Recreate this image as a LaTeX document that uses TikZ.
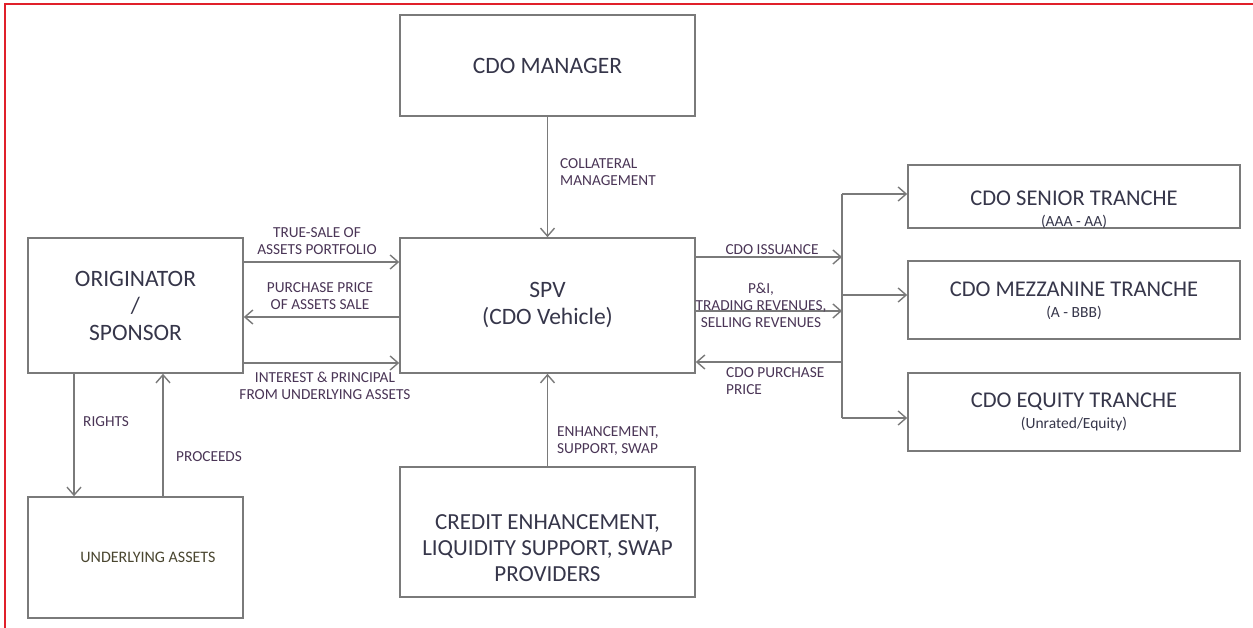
\documentclass[tikz,border=0pt]{standalone}
\usepackage{fontspec}
\setmainfont{Carlito}
\usetikzlibrary{arrows.meta,calc}
\definecolor{boxline}{HTML}{7A7A7A}
\definecolor{boxtext}{HTML}{36364A}
\definecolor{lbltext}{HTML}{4A3556}
\definecolor{undertext}{HTML}{4A4630}
\definecolor{framered}{HTML}{E0202A}
\begin{document}
\begin{tikzpicture}[x=1pt,y=-1pt,
  box/.style={draw=boxline,line width=1.6pt,fill=white,inner sep=0pt,align=center,text=boxtext,font=\fontsize{23.5}{27}\selectfont},
  boxtxt/.style={inner sep=0pt,align=center,text=boxtext,font=\fontsize{23}{26}\selectfont},
  arr/.style={draw=boxline,line width=1.4pt,-{Straight Barb[length=8pt,width=14pt,line width=1.4pt]}},
  plain/.style={draw=boxline,line width=1.4pt},
  lbl/.style={text=lbltext,font=\fontsize{15.3}{17}\selectfont,inner sep=0pt,align=center},
  lbll/.style={lbl,align=left,anchor=west}]
\useasboundingbox (0,0) rectangle (1253,628);
\fill[white] (0,0) rectangle (1253,628);
% frame
\draw[framered,line width=2pt] (5,628) -- (5,4) -- (1253,4);
% boxes
\node[box,minimum width=295pt,minimum height=101pt] (mgr) at (547.5,65.5) {CDO MANAGER};
\node[box,minimum width=295pt,minimum height=135pt] (spv) at (547.5,305.5) {SPV\\(CDO Vehicle)};
\node[box,minimum width=215pt,minimum height=135pt] (orig) at (135.5,305.5) {ORIGINATOR\\/\\SPONSOR};
\node[box,minimum width=215pt,minimum height=121pt] (under) at (135.5,557.5) {};
\node[text=undertext,font=\fontsize{16}{19}\selectfont,inner sep=0pt] (undertxt) at (148,557) {UNDERLYING ASSETS};
\node[box,minimum width=295pt,minimum height=130pt] (credit) at (547.5,532) {};
\node[boxtxt] (credittxt) at (547.5,548) {CREDIT ENHANCEMENT,\\LIQUIDITY SUPPORT, SWAP\\PROVIDERS};
\node[box,minimum width=332pt,minimum height=63pt] (senior) at (1074,196.5) {};
\node[boxtxt,font=\fontsize{22.5}{21}\selectfont] (seniortxt) at (1074,210) {CDO SENIOR TRANCHE\\{\fontsize{15.5}{21}\selectfont(AAA - AA)}};
\node[box,minimum width=332pt,minimum height=78pt] (mezz) at (1074,300) {};
\node[boxtxt,font=\fontsize{22.5}{21}\selectfont] (mezztxt) at (1074,301) {CDO MEZZANINE TRANCHE\\{\fontsize{15.5}{21}\selectfont(A - BBB)}};
\node[box,minimum width=332pt,minimum height=78pt] (equity) at (1074,412) {};
\node[boxtxt,font=\fontsize{22.5}{21}\selectfont] (equitytxt) at (1074,412) {CDO EQUITY TRANCHE\\{\fontsize{15.5}{21}\selectfont(Unrated/Equity)}};
% helper coordinates
\coordinate (bus) at (842,0);
\coordinate (y1) at (0,262);
\coordinate (y2) at (0,317);
\coordinate (y3) at (0,363);
\coordinate (z1) at (0,257);
\coordinate (z2) at (0,311);
\coordinate (z3) at (0,362);
\coordinate (t1) at (0,194);
\coordinate (t2) at (0,295);
\coordinate (t3) at (0,418);
\coordinate (xr) at (74,0);
\coordinate (xp) at (163,0);
% vertical arrows
\draw[arr] (mgr.south) -- (spv.north);
\draw[arr] (credit.north) -- (spv.south);
\draw[arr] (orig.south -| xr) -- (under.north -| xr);
\draw[arr] (under.north -| xp) -- (orig.south -| xp);
% left horizontal arrows
\draw[arr] (orig.east |- y1) -- (spv.west |- y1);
\draw[arr] (spv.west |- y2) -- (orig.east |- y2);
\draw[arr] (orig.east |- y3) -- (spv.west |- y3);
% right side
\draw[arr] (spv.east |- z1) -- (bus |- z1);
\draw[arr] (spv.east |- z2) -- (bus |- z2);
\draw[arr] (bus |- z3) -- (spv.east |- z3);
\draw[plain] (bus |- t1) -- (bus |- t3);
\draw[arr] (bus |- t1) -- (senior.west |- t1);
\draw[arr] (bus |- t2) -- (mezz.west |- t2);
\draw[arr] (bus |- t3) -- (equity.west |- t3);
% labels
\node[lbll] (lcoll) at (560,172) {COLLATERAL\\MANAGEMENT};
\node[lbll] (lenh) at (557,441) {ENHANCEMENT,\\SUPPORT, SWAP};
\node[lbl] (ltrue) at (317,241.5) {TRUE-SALE OF\\ASSETS PORTFOLIO};
\node[lbl] (lpurch) at (320,296) {PURCHASE PRICE\\OF ASSETS SALE};
\node[lbl] (lint) at (325,385.5) {INTEREST \& PRINCIPAL\\FROM UNDERLYING ASSETS};
\node[lbl] (liss) at (772,250) {CDO ISSUANCE};
\node[lbl] (lpi) at (761,305.5) {P\&I,\\TRADING REVENUES,\\SELLING REVENUES};
\node[lbll] (lcpp) at (726,381.5) {CDO PURCHASE\\PRICE};
\node[lbll] (lrights) at (83,422) {RIGHTS};
\node[lbll] (lproc) at (176,457) {PROCEEDS};
\end{tikzpicture}
\end{document}
